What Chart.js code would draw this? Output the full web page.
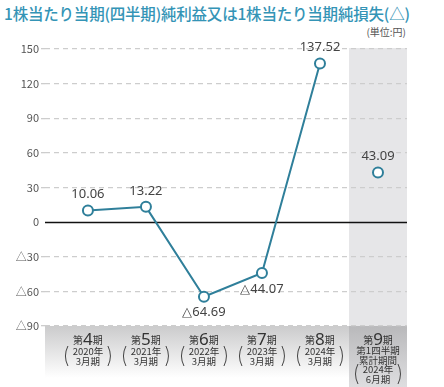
<!DOCTYPE html>
<html>
<head>
<meta charset="utf-8">
<script src="https://cdn.jsdelivr.net/npm/chart.js@4"></script>
<style>
  body { margin: 0; background: #fff; font-family: "Noto Sans CJK JP", "Noto Sans", sans-serif; }
  #wrap { position: relative; width: 444px; height: 387px; }
  #title { position: absolute; left: 4px; top: 2px; font-size: 15.5px; font-weight: 500; color: #3494b6; white-space: nowrap; letter-spacing: -0.2px; }
  #unit { position: absolute; right: 38px; top: 24px; font-size: 10px; color: #555; }
  canvas { position: absolute; left: 0; top: 0; }
</style>
</head>
<body>
<div id="wrap">
  <div id="title">1株当たり当期(四半期)純利益又は1株当たり当期純損失(△)</div>
  <div id="unit">(単位:円)</div>
  <canvas id="epsChart" width="444" height="387"></canvas>
</div>
<script>
// periods along the bottom
const periods = ['4', '5', '6', '7', '8', '9'];
const fiscalYears = ['2020年', '2021年', '2022年', '2023年', '2024年', '2024年'];
const fiscalMonths = ['3月期', '3月期', '3月期', '3月期', '3月期', '6月期'];
const quarterNote = ['第1四半期', '累計期間'];

// per share net income (yen)
const eps = [10.06, 13.22, -64.69, -44.07, 137.52, 43.09];
const yTicks = [-90, -60, -30, 0, 30, 60, 90, 120, 150];

const teal = '#2f7f9a';
const fmt = v => (v < 0 ? '△' + Math.abs(v).toFixed(2) : v.toFixed(2));

// gray column for the quarter and the gradient strip under the axis
const backgroundPlugin = {
    id: 'backgrounds',
    beforeDraw(chart) {
        const { ctx, chartArea, scales } = chart;
        const x = scales.x;
        const split = x.getPixelForValue(4.5);
        ctx.save();
        ctx.fillStyle = '#e6e6e8';
        ctx.fillRect(split, chartArea.top - 1, chartArea.right - split, chartArea.bottom - chartArea.top + 1);

        let g = ctx.createLinearGradient(0, chartArea.bottom, 0, 387);
        g.addColorStop(0, '#cbcbcc');
        g.addColorStop(0.85, '#ffffff');
        ctx.fillStyle = g;
        ctx.fillRect(chartArea.left, chartArea.bottom, split - chartArea.left, 387 - chartArea.bottom);

        g = ctx.createLinearGradient(0, chartArea.bottom, 0, 387);
        g.addColorStop(0, '#b9b9bb');
        g.addColorStop(1, '#dedee0');
        ctx.fillStyle = g;
        ctx.fillRect(split, chartArea.bottom, chartArea.right - split, 387 - chartArea.bottom);
        ctx.restore();
    },
    beforeDatasetsDraw(chart) {
        // solid zero line
        const { ctx, chartArea, scales } = chart;
        const y0 = Math.round(scales.y.getPixelForValue(0)) + 0.5;
        ctx.save();
        ctx.strokeStyle = '#111';
        ctx.lineWidth = 1.5;
        ctx.beginPath();
        ctx.moveTo(chartArea.left, y0);
        ctx.lineTo(chartArea.right, y0);
        ctx.stroke();
        ctx.restore();
    },
};

function drawParens(ctx, cx, halfW, top, bottom) {
    ctx.beginPath();
    ctx.moveTo(cx - halfW + 3, top);
    ctx.quadraticCurveTo(cx - halfW - 2, (top + bottom) / 2, cx - halfW + 3, bottom);
    ctx.moveTo(cx + halfW - 3, top);
    ctx.quadraticCurveTo(cx + halfW + 2, (top + bottom) / 2, cx + halfW - 3, bottom);
    ctx.stroke();
}

// category labels and value labels
const labelPlugin = {
    id: 'labels',
    afterDraw(chart) {
        const { ctx, scales } = chart;
        const x = scales.x, y = scales.y;
        ctx.save();
        ctx.fillStyle = '#333';
        ctx.strokeStyle = '#444';
        ctx.lineWidth = 1;
        ctx.textBaseline = 'alphabetic';
        periods.forEach((p, i) => {
            const cx = x.getPixelForValue(i);
            // 第N期
            const small = '10px "Noto Sans CJK JP"', big = '17px "Noto Sans"';
            ctx.font = small; const w1 = ctx.measureText('第').width;
            ctx.font = big; const w2 = ctx.measureText(p).width;
            ctx.font = small; const w3 = ctx.measureText('期').width;
            const sx = cx - (w1 + w2 + w3) / 2;
            ctx.textAlign = 'left';
            ctx.font = small; ctx.fillText('第', sx, 344);
            ctx.font = big; ctx.fillText(p, sx + w1, 345);
            ctx.font = small; ctx.fillText('期', sx + w1 + w2, 344);
            ctx.textAlign = 'center';
            ctx.font = '9.5px "Noto Sans CJK JP"';
            let base = 355;
            if (i === periods.length - 1) {
                quarterNote.forEach((t, k) => ctx.fillText(t, cx, 354 + k * 10));
                base = 373;
            }
            ctx.fillText(fiscalYears[i], cx, base);
            ctx.fillText(fiscalMonths[i], cx, base + 10);
            drawParens(ctx, cx, 23, base - 9, base + 11);
        });

        ctx.font = '13px "Noto Sans", sans-serif';
        ctx.fillStyle = '#444';
        ctx.textAlign = 'center';
        ctx.textBaseline = 'middle';
        eps.forEach((v, i) => {
            const px = x.getPixelForValue(i), py = y.getPixelForValue(v);
            ctx.fillText(fmt(v), px, v < 0 ? py + 16 : py - 16);
        });
        ctx.restore();
    },
};

function createEpsChart() {
    const ctx = document.getElementById('epsChart').getContext('2d');
    const linePts = eps.slice(0, 5).map((v, i) => ({ x: i, y: v }));
    new Chart(ctx, {
        type: 'line',
        data: {
            datasets: [{
                data: linePts,
                borderColor: teal,
                borderWidth: 2,
                pointRadius: 5,
                pointBorderWidth: 2,
                pointBackgroundColor: '#fff',
                pointBorderColor: teal,
                tension: 0,
            }, {
                data: [{ x: 5, y: eps[5] }],
                showLine: false,
                pointRadius: 5,
                pointBorderWidth: 2,
                pointBackgroundColor: '#fff',
                pointBorderColor: teal,
            }],
        },
        options: {
            responsive: false,
            animation: false,
            layout: { padding: { left: 0, right: 37, top: 49, bottom: 61 } },
            plugins: { legend: { display: false }, tooltip: { enabled: false } },
            scales: {
                x: {
                    type: 'linear',
                    min: -0.74,
                    max: 5.5,
                    display: false,
                },
                y: {
                    min: -90,
                    max: 150,
                    afterBuildTicks: s => { s.ticks = yTicks.map(v => ({ value: v })); },
                    afterFit: s => { s.width = 45; },
                    border: { display: false, dash: [5, 4] },
                    grid: {
                        color: ctx => (ctx.tick && ctx.tick.value === 0 ? 'rgba(0,0,0,0)' : '#cdcdcd'),
                        lineWidth: 1.3,
                        tickLength: 4,
                    },
                    ticks: {
                        padding: 2,
                        color: '#555',
                        font: { size: 11, family: '"Noto Sans CJK JP", "Noto Sans"' },
                        callback: v => (v < 0 ? '△' + Math.abs(v) : v),
                    },
                },
            },
        },
        plugins: [backgroundPlugin, labelPlugin],
    });
}

document.addEventListener('DOMContentLoaded', () => {
    createEpsChart();
});
</script>
</body>
</html>
